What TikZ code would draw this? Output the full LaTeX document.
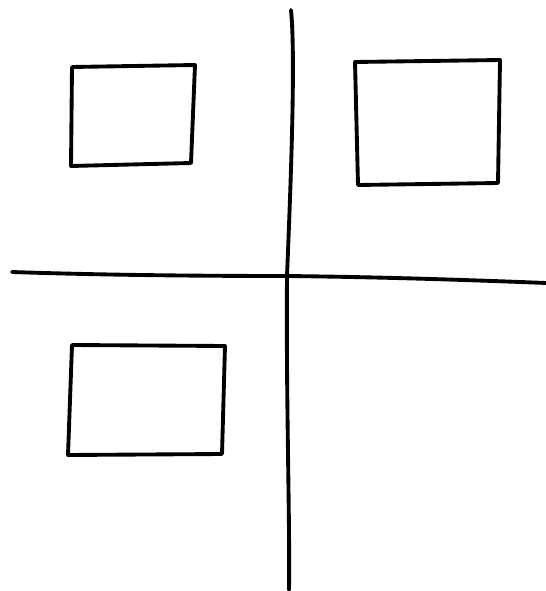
\documentclass[tikz,border=0pt]{standalone}
\usepackage{tikz}
\tikzset{
  pen/.style={line width=2.2pt, black, line cap=round, line join=round},
}

\begin{document}
\begin{tikzpicture}[x=0.02cm,y=-0.02cm]
 \useasboundingbox (0,0) rectangle (546,591);
 % axes
 \draw[pen] (291,10) .. controls (296,60) and (290,200) .. (287,276) .. controls (286,400) and (290,520) .. (289,590);
 \draw[pen] (12,272) .. controls (100,275) and (200,276) .. (286,276) .. controls (380,277) and (470,280) .. (546,283);
 % boxes
 \draw[pen] (72,67) -- (195,65) -- (191,163) -- (71,166) -- cycle;
 \draw[pen] (355,62) -- (500,60) -- (498,183) -- (358,185) -- cycle;
 \draw[pen] (72,345) -- (225,346) -- (222,454) -- (68,455) -- cycle;
\end{tikzpicture}
\end{document}
